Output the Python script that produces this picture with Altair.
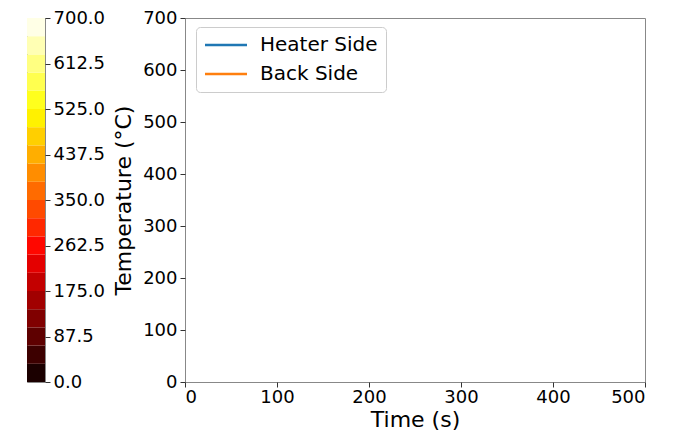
import altair as alt
import pandas as pd

# ---- data ----
levels = [0, 35, 70, 105, 140, 175, 210, 245, 280, 315, 350,
          385, 420, 455, 490, 525, 560, 595, 630, 665, 700]
cbar_ticks = [0, 87.5, 175, 262.5, 350, 437.5, 525, 612.5, 700]
x_ticks = [0, 100, 200, 300, 400, 500]
y_ticks = [0, 100, 200, 300, 400, 500, 600, 700]
series = ["Heater Side", "Back Side"]
series_colors = ["#1f77b4", "#ff7f0e"]
heater_time = []
heater_temp = []
back_time = []
back_temp = []


# 'hot' colormap
def hot(v):
    r = min(1.0, 0.0416 + (1 - 0.0416) * v / 0.365079)
    g = min(1.0, max(0.0, (v - 0.365079) / (0.746032 - 0.365079)))
    b = min(1.0, max(0.0, (v - 0.746032) / (1 - 0.746032)))
    return "#%02x%02x%02x" % (round(r * 255), round(g * 255), round(b * 255))


n = len(levels) - 1
band_colors = [hot((i + 0.5) / n) for i in range(n)]
cb_df = pd.DataFrame({"lo": levels[:-1], "hi": levels[1:], "color": band_colors})

rows = []
for name, ts, vs in [("Heater Side", heater_time, heater_temp), ("Back Side", back_time, back_temp)]:
    for t, v in zip(ts, vs):
        rows.append({"time": t, "temp": v, "series": name})
line_df = pd.DataFrame(rows, columns=["time", "temp", "series"])

FONT = "DejaVu Sans"
CB_W = 18
GAP = 140

cbar = alt.Chart(cb_df).mark_rect().encode(
    x=alt.value(0), x2=alt.value(CB_W),
    y=alt.Y("lo:Q", scale=alt.Scale(domain=[0, 700], nice=False),
            axis=alt.Axis(orient="right", values=cbar_ticks, format=".1f", title=None,
                          grid=False, domain=False, labelFontSize=18, labelColor="black",
                          tickSize=5, tickColor="#333", labelPadding=3)),
    y2="hi:Q",
    color=alt.Color("color:N", scale=None),
).properties(width=CB_W, height=364)

main = alt.Chart(line_df).mark_line(strokeWidth=2).encode(
    x=alt.X("time:Q", scale=alt.Scale(domain=[0, 500], nice=False),
            axis=alt.Axis(values=x_ticks, title="Time (s)", grid=False, domain=False,
                          labelFontSize=18, titleFontSize=22, labelColor="black",
                          titleColor="black", titleFontWeight="normal",
                          tickSize=5, tickColor="#333", labelPadding=1, titlePadding=3)),
    y=alt.Y("temp:Q", scale=alt.Scale(domain=[0, 700], nice=False),
            axis=alt.Axis(values=y_ticks, title="Temperature (°C)", grid=False, domain=False,
                          labelFontSize=18, titleFontSize=22, labelColor="black",
                          titleColor="black", titleFontWeight="normal",
                          tickSize=5, tickColor="#333", labelPadding=3, titlePadding=7)),
    color=alt.Color("series:N", scale=alt.Scale(domain=series, range=series_colors),
                    legend=alt.Legend(title=None, orient="none",
                                      legendX=CB_W + GAP + 11, legendY=9,
                                      symbolType="M-3,0L3,0", symbolStrokeWidth=2.5,
                                      symbolSize=196, symbolOffset=12,
                                      labelFontSize=20, labelColor="black",
                                      labelOffset=24, strokeColor="#cccccc", fillColor="white",
                                      padding=8, cornerRadius=4, rowPadding=9)),
).properties(width=460, height=364)

chart = alt.hconcat(cbar, main, spacing=GAP, bounds="flush").properties(
    padding={"left": 18, "top": 0, "right": 5, "bottom": 5}
).configure(font=FONT).configure_view(stroke="#888888", strokeWidth=1)

chart.save("out.html", embed_options={"renderer": "svg", "actions": False})
